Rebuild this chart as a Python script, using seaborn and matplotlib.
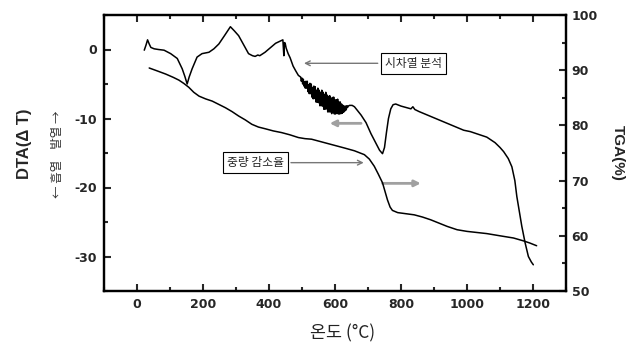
import seaborn as sns
import matplotlib.pyplot as plt
from matplotlib.ticker import MultipleLocator


# =========================================================
# 1. DATA
# =========================================================

# DTA curve (left axis, delta T)
dta_temp = [22, 27, 32, 37, 42, 52, 65, 82, 102, 122, 137, 145, 152, 158, 167, 182, 197,
            218, 233, 248, 265, 283, 295, 308, 322, 338, 350, 358, 366, 372, 388, 405,
            420, 433, 442, 445, 447, 449, 452, 458, 464, 473, 481, 489,
            # noisy stretch
            496, 498, 500, 502, 504, 506, 508, 510, 512, 514, 516, 518, 520, 522, 524,
            526, 528, 530, 532, 534, 536, 538, 540, 542, 544, 546, 548, 550, 552, 554,
            556, 558, 560, 562, 564, 566, 568, 570, 572, 574, 576, 578, 580, 582, 584,
            586, 588, 590, 592, 594, 596, 598, 600, 602, 604, 606, 608, 610, 612, 614,
            616, 618, 620, 622, 624, 626, 628, 630, 632, 634, 636, 638, 640,
            644, 652, 659, 669, 679, 694, 709, 724, 735, 744, 750, 756, 762, 769, 776,
            784, 800, 815, 830, 836, 842, 855, 880, 905, 930, 960, 990, 1010, 1035,
            1060, 1085, 1100, 1111, 1125, 1136, 1145, 1151, 1166, 1176, 1186, 1195, 1201]
dta_value = [-0.1, 0.6, 1.4, 0.8, 0.3, 0.1, 0.0, -0.1, -0.6, -1.3, -2.8, -3.9, -5.0, -4.0,
             -2.8, -1.1, -0.6,
             -0.4, 0.1, 0.8, 2.0, 3.3, 2.7, 2.0, 0.8, -0.6, -0.9, -1.0, -0.8, -0.9, -0.4, 0.3,
             0.9, 1.2, 1.4, -0.9, 1.0, 0.9, 0.2, -0.6, -1.2, -2.4, -3.1, -3.75,
             -4.0, -4.6, -4.15, -5.0, -4.3, -5.3, -4.7, -5.6, -4.6, -5.6, -4.6, -6.1, -5.1,
             -6.4, -4.9, -6.4, -5.0, -6.9, -5.5, -7.15, -5.3, -7.1, -5.4, -7.6, -5.9, -7.65,
             -5.6, -7.7, -5.9, -8.15, -6.2, -8.15, -5.9, -8.2, -6.2, -8.65, -6.5, -8.65,
             -6.2, -8.6, -6.6, -9.05, -6.8, -9.05, -6.7, -9.05, -7.1, -9.3, -6.95, -9.1,
             -6.9, -9.35, -7.3, -9.35, -7.3, -9.2, -7.2, -9.35, -7.6, -9.35, -7.6, -9.3,
             -7.9, -9.25, -8.1, -9.1, -8.2, -8.9, -8.2, -8.75, -8.15, -8.4, -8.2,
             -8.1, -8.1, -8.3, -8.9, -9.5, -10.6, -12.2, -13.6, -14.6, -15.1, -14.2, -12.0,
             -10.0, -8.6, -8.0,
             -7.9, -8.2, -8.4, -8.6, -8.3, -8.7, -9.0, -9.5, -10.0, -10.5, -11.1, -11.7,
             -11.9, -12.3,
             -12.7, -13.5, -14.2, -14.8, -15.8, -17.0, -19.0, -21.3, -25.6, -28.0, -30.0,
             -30.8, -31.2]

# TGA curve (right axis, %)
tga_temp = [37, 60, 87, 110, 127, 142, 157, 172, 188, 208, 228, 248, 268, 288, 308, 328,
            348, 368, 388, 413, 438, 463, 489, 509, 529, 554, 579, 604, 629, 659, 689, 704,
            719, 731, 744, 759, 767, 774, 790, 815, 840, 865, 890, 915, 940, 970, 1000,
            1030, 1060, 1100, 1141, 1170, 1190, 1211]
tga_value = [90.4, 89.9, 89.3, 88.7, 88.2, 87.6, 86.9, 86.0, 85.3, 84.8, 84.4, 83.8, 83.2,
             82.5, 81.7, 81.0, 80.2, 79.7, 79.4, 79.0, 78.7, 78.3, 77.8, 77.6, 77.5, 77.1,
             76.7, 76.3, 75.9, 75.4, 74.7, 73.9, 72.6, 71.2, 69.6, 66.5, 65.2, 64.6, 64.2,
             64.0, 63.8, 63.4, 62.9, 62.3, 61.7, 61.1, 60.8, 60.6, 60.4, 60.0, 59.6, 59.1,
             58.7, 58.2]

x_ticks = [0, 200, 400, 600, 800, 1000, 1200]
dta_ticks = [-30, -20, -10, 0]
tga_ticks = [50, 60, 70, 80, 90, 100]


# =========================================================
# 2. STYLE
# =========================================================

sns.set_style("ticks")
plt.rcParams["font.family"] = ["Liberation Sans", "Noto Sans CJK KR", "DejaVu Sans"]
plt.rcParams["axes.unicode_minus"] = False

KR = ["Noto Sans CJK KR", "DejaVu Sans"]
tick_kw = dict(direction="in", width=1.5, labelsize=9)


def style_axis(ax):
    for sp in ax.spines.values():
        sp.set_linewidth(1.6)
        sp.set_color("black")
    for lab in ax.get_xticklabels() + ax.get_yticklabels():
        lab.set_fontweight("bold")
        lab.set_family("DejaVu Sans")


# =========================================================
# 3. PLOT
# =========================================================

fig = plt.figure(figsize=(6.32, 3.45), dpi=100)
ax = fig.add_axes([104 / 632, 1 - 291 / 345, 462 / 632, 276 / 345])

sns.lineplot(x=dta_temp, y=dta_value, ax=ax, color="black", lw=1.1, estimator=None)
ax.set_xlim(-100, 1300)
ax.set_ylim(-35, 5)
ax.set_xticks(x_ticks)
ax.set_yticks(dta_ticks)
ax.xaxis.set_minor_locator(MultipleLocator(100))
ax.yaxis.set_minor_locator(MultipleLocator(5))
ax.tick_params(axis="x", which="both", top=True, bottom=True, pad=5, **tick_kw)
ax.tick_params(axis="y", which="both", left=True, right=False, pad=5, **tick_kw)
ax.tick_params(which="major", length=5)
ax.tick_params(which="minor", length=3)
ax.set_xlabel("")
ax.set_ylabel("")

ax2 = ax.twinx()
sns.lineplot(x=tga_temp, y=tga_value, ax=ax2, color="black", lw=1.1, estimator=None)
ax2.set_ylim(50, 100)
ax2.set_yticks(tga_ticks)
ax2.yaxis.set_minor_locator(MultipleLocator(5))
ax2.tick_params(axis="y", which="both", right=True, left=False, pad=4, **tick_kw)
ax2.tick_params(which="major", length=5)
ax2.tick_params(which="minor", length=3)
ax2.set_ylabel("")

style_axis(ax)
style_axis(ax2)

# annotations
box = dict(boxstyle="square,pad=0.35", fc="white", ec="black", lw=0.8)
ax.annotate("시차열 분석", xy=(506, -2.0), xytext=(838, -2.0), family=KR, fontsize=8.5,
            ha="center", va="center", bbox=box,
            arrowprops=dict(arrowstyle="->", color="#777777", lw=1, shrinkB=0))
ax.annotate("중량 감소율", xy=(687, -16.4), xytext=(358, -16.4), family=KR, fontsize=8.5,
            ha="center", va="center", bbox=box,
            arrowprops=dict(arrowstyle="->", color="#777777", lw=1, shrinkB=0))
ax.annotate("", xy=(584, -10.7), xytext=(679, -10.7),
            arrowprops=dict(arrowstyle="-|>", color="#a0a0a0", lw=2, mutation_scale=9,
                            shrinkA=0, shrinkB=0))
ax.annotate("", xy=(860, -19.4), xytext=(744, -19.4),
            arrowprops=dict(arrowstyle="-|>", color="#a0a0a0", lw=2, mutation_scale=9,
                            shrinkA=0, shrinkB=0))

# axis titles
fig.text(25 / 632, 1 - 144 / 345, "DTA(Δ T)", rotation=90, ha="center", va="center",
         fontsize=12, fontweight="bold")
fig.text(58 / 632, 1 - 154 / 345, "← 흡열    발열 →", rotation=90, ha="center",
         va="center", fontsize=9, color="#333333", family=KR)
fig.text(618 / 632, 1 - 153 / 345, "TGA(%)", rotation=270, ha="center", va="center",
         fontsize=11, fontweight="bold")
fig.text(343 / 632, 1 - 333 / 345, "온도 (°C)", ha="center", va="center",
         fontsize=12.5, color="#222222", family=KR)

fig.savefig("out.png", dpi=100)
